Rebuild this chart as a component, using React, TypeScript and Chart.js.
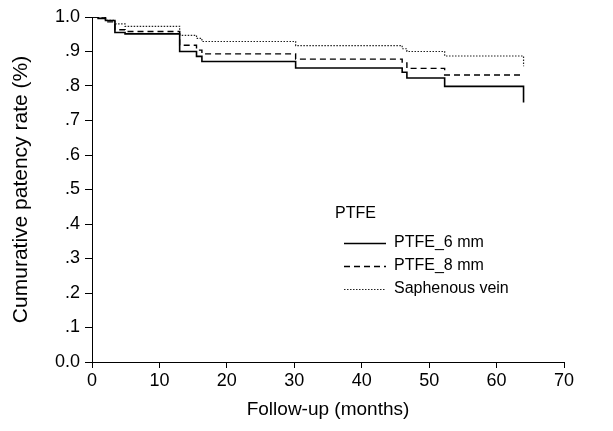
import React, { useEffect, useRef } from "react";
import { Chart, registerables } from "chart.js";

Chart.register(...registerables);

// Follow-up times (months) at which each curve steps down, and the survival value after the step
const monthsPtfe6 = [0, 0.9, 2, 3.4, 4.9, 13, 15.5, 16.3, 30.2, 46, 46.7, 52.3, 64];
const ptfe6 = [1.0, 0.996, 0.99, 0.955, 0.951, 0.9, 0.886, 0.871, 0.852, 0.84, 0.823, 0.799, 0.752];

const monthsPtfe8 = [0, 2, 3.4, 4.9, 13, 15.5, 16.3, 30.2, 46, 46.7, 52.3, 64];
const ptfe8 = [1.0, 0.986, 0.963, 0.958, 0.918, 0.904, 0.893, 0.878, 0.867, 0.851, 0.832, 0.832];

const monthsVein = [0, 2, 3.4, 4.9, 13, 15.5, 16.3, 30.2, 46, 46.7, 52.3, 64];
const vein = [1.0, 0.99, 0.98, 0.973, 0.947, 0.938, 0.929, 0.917, 0.908, 0.9, 0.887, 0.857];

const seriesNames = ["PTFE_6 mm", "PTFE_8 mm", "Saphenous vein"];
const legendTitle = "PTFE";
const xTitle = "Follow-up (months)";
const yTitle = "Cumurative patency rate (%)";

const FONT = "'Liberation Sans', Arial, Helvetica, sans-serif";

const toPoints = (xs: number[], ys: number[]) => xs.map((x, i) => ({ x, y: ys[i] }));

const legendPlugin = {
  id: "insideLegend",
  afterDraw(chart: any) {
    const ctx = chart.ctx;
    ctx.save();
    ctx.fillStyle = "#000";
    ctx.font = `16px ${FONT}`;
    ctx.textBaseline = "middle";
    ctx.textAlign = "left";
    ctx.fillText(legendTitle, 335, 214);
    const ys = [243, 266, 289];
    const styles = [
      { dash: [], width: 1.4, color: "#000" },
      { dash: [6, 4], width: 1.3, color: "#000" },
      { dash: [1.5, 1.5], width: 1.1, color: "#222" },
    ];
    seriesNames.forEach((name, i) => {
      ctx.beginPath();
      ctx.setLineDash(styles[i].dash);
      ctx.lineWidth = styles[i].width;
      ctx.strokeStyle = styles[i].color;
      ctx.moveTo(344, ys[i] + 0.5);
      ctx.lineTo(386, ys[i] + 0.5);
      ctx.stroke();
      ctx.setLineDash([]);
      ctx.fillText(name, 394, ys[i]);
    });
    ctx.restore();
  },
};

export default function App() {
  const ref = useRef<HTMLCanvasElement | null>(null);
  useEffect(() => {
    if (!ref.current) return;
    const chart = new Chart(ref.current, {
      type: "line",
      data: {
        datasets: [
          {
            label: seriesNames[0],
            data: toPoints(monthsPtfe6, ptfe6),
            borderColor: "#000",
            borderWidth: 1.6,
            stepped: "before",
            pointRadius: 0,
            fill: false,
          },
          {
            label: seriesNames[1],
            data: toPoints(monthsPtfe8, ptfe8),
            borderColor: "#000",
            borderWidth: 1.4,
            borderDash: [6, 4],
            stepped: "before",
            pointRadius: 0,
            fill: false,
          },
          {
            label: seriesNames[2],
            data: toPoints(monthsVein, vein),
            borderColor: "#222",
            borderWidth: 1.2,
            borderDash: [1.5, 1.5],
            stepped: "before",
            pointRadius: 0,
            fill: false,
          },
        ],
      },
      options: {
        responsive: false,
        animation: false,
        layout: { padding: { left: 0, top: 17, right: 49, bottom: 0 } },
        plugins: { legend: { display: false }, tooltip: { enabled: false } },
        scales: {
          x: {
            type: "linear",
            min: 0,
            max: 70,
            afterFit: (s: any) => {
              s.height = 69;
            },
            ticks: { stepSize: 10, color: "#000", font: { family: FONT, size: 18 }, padding: 2 },
            grid: { drawOnChartArea: false, drawTicks: true, tickLength: 6, color: "#000" },
            border: { display: true, color: "#000", width: 1 },
            title: {
              display: true,
              text: xTitle,
              color: "#000",
              font: { family: FONT, size: 19 },
              padding: { top: 0, bottom: 10 },
            },
          },
          y: {
            min: 0,
            max: 1,
            afterFit: (s: any) => {
              s.width = 92;
            },
            ticks: {
              stepSize: 0.1,
              color: "#000",
              font: { family: FONT, size: 18 },
              padding: 5,
              callback: (v: any) => {
                const n = Math.round(Number(v) * 10) / 10;
                if (n === 0) return "0.0";
                if (n === 1) return "1.0";
                return "." + Math.round(n * 10);
              },
            },
            grid: { drawOnChartArea: false, drawTicks: true, tickLength: 7, color: "#000" },
            border: { display: true, color: "#000", width: 1 },
            title: {
              display: true,
              text: yTitle,
              color: "#000",
              font: { family: FONT, size: 21 },
              padding: { top: 9, bottom: 0 },
            },
          },
        },
      },
      plugins: [legendPlugin],
    });
    return () => chart.destroy();
  }, []);
  return (
    <canvas
      ref={ref}
      width={613}
      height={431}
      style={{ position: "absolute", left: 0, top: 0, display: "block" }}
    />
  );
}
